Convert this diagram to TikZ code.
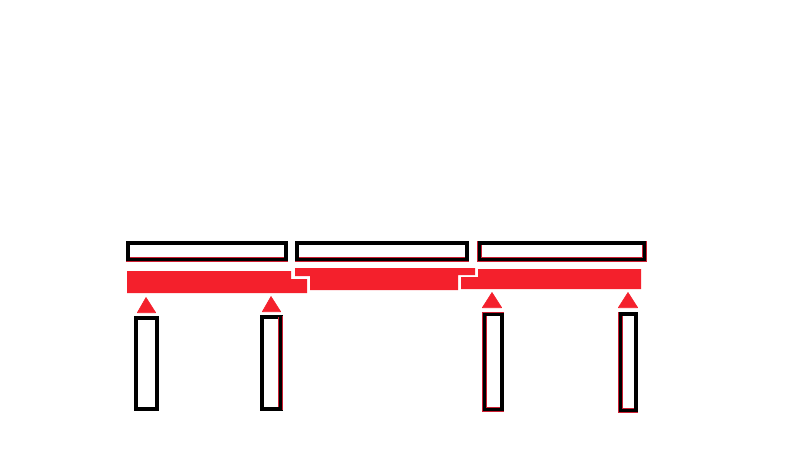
\documentclass[tikz,border=0pt]{standalone}
\definecolor{fillred}{RGB}{244,32,44}
\definecolor{edgered}{RGB}{205,30,50}
\tikzset{
  blackbox/.style={draw=black,line width=4.5pt,fill=white,miter limit=10},
  redblock/.style={fill=fillred,draw=none},
  redtip/.style={fill=fillred,draw=fillred,line width=0.6pt,line join=round},
  thinred/.style={draw=edgered,line width=0.8pt,line cap=butt},
}
\begin{document}
\begin{tikzpicture}[x=1pt,y=-1pt]
\useasboundingbox (0,0) rectangle (800,450);
% top beams
\draw[blackbox] (128.2,243.2) rectangle (285.8,259.3);
\draw[thinred] (130,257.3) -- (284,257.3) (126,261.6) -- (288,261.6);
\draw[blackbox] (297.2,243.2) rectangle (466.8,259.3);
\draw[thinred] (299,257.3) -- (465,257.3) (295,261.6) -- (469,261.6);
\draw[blackbox] (479.2,243.2) rectangle (644.5,259.3);
\draw[thinred] (481.6,245) -- (481.6,257.3) -- (642.3,257.3) -- (642.3,245)
               (477.4,241) -- (477.4,261.6) -- (646.6,261.6) -- (646.6,241);
% red blocks
\fill[redblock] (127,271) -- (291,271) -- (291,279) -- (307,279) -- (307,293) -- (127,293) -- cycle;
\fill[redblock] (295,268) -- (475,268) -- (475,275) -- (458,275) -- (458,290) -- (310,290) -- (310,276) -- (295,276) -- cycle;
\fill[redblock] (478,269) -- (641,269) -- (641,289) -- (461,289) -- (461,277) -- (478,277) -- cycle;
% triangles
\filldraw[redtip] (146,297.5) -- (155.7,312.7) -- (137.3,312.7) -- cycle;
\filldraw[redtip] (271,296.5) -- (280.7,311.7) -- (262.3,311.7) -- cycle;
\filldraw[redtip] (492,292.5) -- (501.7,307.7) -- (482.3,307.7) -- cycle;
\filldraw[redtip] (628,292.5) -- (637.7,307.7) -- (618.3,307.7) -- cycle;
% posts
\draw[blackbox] (136.2,318.2) rectangle (156.8,408.8);
\draw[blackbox] (262.2,317.2) rectangle (280.8,408.8);
\draw[thinred] (278.4,317) -- (278.4,407) (282.7,316) -- (282.7,410);
\draw[blackbox] (485,314.2) rectangle (501.8,408.8);
\draw[thinred] (482.4,312.4) -- (503.6,312.4) (482.4,312) -- (482.4,411.6) -- (504,411.6)
               (486.6,316) -- (486.6,407.2) -- (500,407.2);
\draw[blackbox] (620.5,314.2) rectangle (635.8,410);
\draw[thinred] (618.4,312) -- (618.4,412.6) -- (638,412.6)
               (622.6,316) -- (622.6,408.2) -- (634,408.2);
\end{tikzpicture}
\end{document}
